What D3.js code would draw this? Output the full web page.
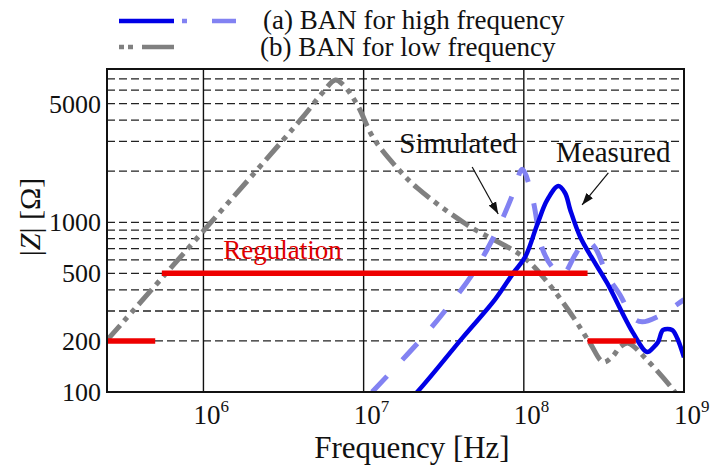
<!DOCTYPE html>
<html>
<head>
<meta charset="utf-8">
<script src="https://cdn.jsdelivr.net/npm/d3@7"></script>
<style>
  body { margin: 0; background: #fff; }
</style>
</head>
<body>
<div id="chart"></div>
<script>
// values: frequency in Hz, |Z| in ohm

// (a) BAN for high frequency, measured
var measuredFreq = [1.8e7, 2.16e7, 4.2e7, 6.6e7, 8.59e7, 1.02e8, 1.21e8, 1.40e8, 1.64e8, 1.81e8, 1.95e8,
                    2.25e8, 2.71e8, 3.31e8, 4.81e8, 5.89e8, 6.41e8, 6.89e8, 7.41e8, 8.43e8, 9.06e8, 1.0e9];
var measuredZ = [85, 100, 212, 350, 502, 625, 964, 1353, 1636, 1488, 1182,
                 819, 600, 439, 223, 172, 182, 197, 232, 232, 208, 160];

// (a) BAN for high frequency, simulated
var simulatedFreq = [1.13e7, 2.26e7, 3.14e7, 4.83e7, 6.44e7, 7.44e7, 8.59e7, 9.78e7, 1.14e8, 1.30e8,
                     1.52e8, 1.74e8, 2.09e8, 2.42e8, 2.79e8, 3.31e8, 3.99e8, 4.81e8, 5.48e8, 6.79e8, 1.0e9];
var simulatedZ = [100, 202, 292, 502, 808, 1074, 1488, 2050, 1353, 706,
                  538, 489, 642, 787, 706, 489, 373, 273, 259, 277, 350];

// (b) BAN for low frequency
var lowFreq = [2.5e5, 4.03e6, 5.53e6, 6.66e6, 7.47e6, 9.14e6, 1.15e7, 1.62e7, 2.16e7, 4.44e7,
               9.91e7, 1.40e8, 2.03e8, 2.59e8, 3.13e8, 3.56e8, 3.99e8, 4.48e8, 5.89e8, 8.43e8, 9.46e8];
var lowZ = [202, 4008, 5781, 6896, 6443, 4913, 3140, 2089, 1593, 964,
            625, 445, 277, 194, 150, 161, 184, 194, 154, 105, 90];

// regulation limits (start freq, end freq, level)
var regStart = [2.5e5, 5.5e5, 2.5e8];
var regEnd = [5.0e5, 2.5e8, 5.0e8];
var regLevel = [200, 500, 200];

// ticks
var xTickExp = [6, 7, 8, 9];
var yTickLabels = [100, 200, 500, 1000, 5000];
var yGrid = [200, 300, 400, 500, 600, 700, 800, 900, 1000, 2000, 3000, 4000, 5000, 6000, 7000];
var xGrid = [1e6, 1e7, 1e8];

var font = "'Liberation Serif', Tinos, 'Times New Roman', Times, 'DejaVu Serif', serif";

// set the dimensions and margins of the graph
var margin = {top: 69, right: 30, bottom: 77, left: 107},
    width = 714 - margin.left - margin.right,
    height = 469 - margin.top - margin.bottom;

var x = d3.scaleLog().domain([2.5e5, 1e9]).range([0, width]);
var y = d3.scaleLog().domain([100, 8000]).range([height, 0]);

var svg = d3.select("#chart").append("svg")
    .attr("width", 714)
    .attr("height", 469)
    .attr("font-family", font)
    .style("font-family", font);

var defs = svg.append("defs");
defs.append("clipPath").attr("id", "plotclip")
  .append("rect").attr("width", width).attr("height", height);
defs.append("marker")
    .attr("id", "arrow")
    .attr("viewBox", "0 0 10 10")
    .attr("refX", 10).attr("refY", 5)
    .attr("markerWidth", 12).attr("markerHeight", 12)
    .attr("markerUnits", "userSpaceOnUse")
    .attr("orient", "auto")
  .append("path")
    .attr("d", "M0,1.5 L10,5 L0,8.5 Z")
    .attr("fill", "#111");

var g = svg.append("g")
    .attr("transform", "translate(" + margin.left + "," + margin.top + ")");

// dashed horizontal grid
g.selectAll(".hgrid")
    .data(yGrid)
  .enter().append("line")
    .attr("class", "hgrid")
    .attr("x1", 0).attr("x2", width)
    .attr("y1", function(d) { return y(d); })
    .attr("y2", function(d) { return y(d); })
    .attr("stroke", "#222")
    .attr("stroke-width", 1.3)
    .attr("stroke-dasharray", "8,4");

// solid vertical grid at decades
g.selectAll(".vgrid")
    .data(xGrid)
  .enter().append("line")
    .attr("class", "vgrid")
    .attr("x1", function(d) { return x(d); })
    .attr("x2", function(d) { return x(d); })
    .attr("y1", 0).attr("y2", height)
    .attr("stroke", "#111")
    .attr("stroke-width", 1.4);

var plot = g.append("g").attr("clip-path", "url(#plotclip)");

var line = d3.line()
    .x(function(d) { return x(d[0]); })
    .y(function(d) { return y(d[1]); })
    .curve(d3.curveCatmullRom.alpha(0.5));

// low frequency BAN (gray dash-dot-dot)
plot.append("path")
    .datum(d3.zip(lowFreq, lowZ))
    .attr("d", line)
    .attr("fill", "none")
    .attr("stroke", "#808080")
    .attr("stroke-width", 5)
    .attr("stroke-dasharray", "20,6,5,6,5,6");

// simulated (light blue dashed)
plot.append("path")
    .datum(d3.zip(simulatedFreq, simulatedZ))
    .attr("d", line)
    .attr("fill", "none")
    .attr("stroke", "#8282f2")
    .attr("stroke-width", 5)
    .attr("stroke-dasharray", "22,22");

// measured (blue solid)
plot.append("path")
    .datum(d3.zip(measuredFreq, measuredZ))
    .attr("d", line)
    .attr("fill", "none")
    .attr("stroke", "#0000e6")
    .attr("stroke-width", 4.5)
    .attr("stroke-linejoin", "round");

// regulation limits
plot.selectAll(".reg")
    .data(d3.range(regLevel.length))
  .enter().append("line")
    .attr("class", "reg")
    .attr("x1", function(i) { return x(regStart[i]); })
    .attr("x2", function(i) { return x(regEnd[i]); })
    .attr("y1", function(i) { return y(regLevel[i]); })
    .attr("y2", function(i) { return y(regLevel[i]); })
    .attr("stroke", "#ee0000")
    .attr("stroke-width", 5.5);

// plot frame
g.append("rect")
    .attr("width", width).attr("height", height)
    .attr("fill", "none")
    .attr("stroke", "#111")
    .attr("stroke-width", 2);

// annotations
g.append("text")
    .attr("x", x(1.33e6)).attr("y", y(608))
    .attr("font-size", 27)
    .attr("fill", "#e00000")
    .text("Regulation");

g.append("text")
    .attr("x", x(1.67e7)).attr("y", y(2560))
    .attr("font-size", 29)
    .attr("fill", "#111")
    .text("Simulated");

g.append("text")
    .attr("x", x(1.59e8)).attr("y", y(2265))
    .attr("font-size", 29)
    .attr("fill", "#111")
    .text("Measured");

var arrows = [[4.76e7, 2118, 6.92e7, 1119], [3.37e8, 1953, 2.31e8, 1265]];
g.selectAll(".arrow")
    .data(arrows)
  .enter().append("line")
    .attr("x1", function(d) { return x(d[0]); })
    .attr("y1", function(d) { return y(d[1]); })
    .attr("x2", function(d) { return x(d[2]); })
    .attr("y2", function(d) { return y(d[3]); })
    .attr("stroke", "#111")
    .attr("stroke-width", 1.2)
    .attr("marker-end", "url(#arrow)");

// y tick labels
g.selectAll(".ylab")
    .data(yTickLabels)
  .enter().append("text")
    .attr("x", -6)
    .attr("y", function(d) { return y(d); })
    .attr("dy", "0.35em")
    .attr("text-anchor", "end")
    .attr("font-size", 26)
    .attr("fill", "#111")
    .text(function(d) { return d; });

// x tick labels as 10^n
var xl = g.selectAll(".xlab")
    .data(xTickExp)
  .enter().append("text")
    .attr("x", function(d) { return x(Math.pow(10, d)) - 10; })
    .attr("y", height + 32)
    .attr("font-size", 27)
    .attr("fill", "#111");
xl.append("tspan").text("10");
xl.append("tspan")
    .attr("dy", -12)
    .attr("font-size", 17)
    .text(function(d) { return d; });

// axis titles
svg.append("text")
    .attr("x", 412)
    .attr("y", 458)
    .attr("text-anchor", "middle")
    .attr("font-size", 31)
    .attr("fill", "#111")
    .text("Frequency [Hz]");

var ylab = svg.append("text")
    .attr("transform", "translate(40,217) rotate(-90)")
    .attr("text-anchor", "middle")
    .attr("font-size", 30)
    .attr("fill", "#111");
ylab.append("tspan").text("|");
ylab.append("tspan").attr("font-style", "italic").text("Z");
ylab.append("tspan").text("| [\u03A9]");

// legend
var legend = svg.append("g");
legend.append("line")
    .attr("x1", 119).attr("x2", 174).attr("y1", 21).attr("y2", 21)
    .attr("stroke", "#0000e6").attr("stroke-width", 4.5);
legend.append("line")
    .attr("x1", 182).attr("x2", 236).attr("y1", 21).attr("y2", 21)
    .attr("stroke", "#8282f2").attr("stroke-width", 4.5)
    .attr("stroke-dasharray", "5,25,24");
legend.append("line")
    .attr("x1", 119).attr("x2", 174).attr("y1", 47).attr("y2", 47)
    .attr("stroke", "#808080").attr("stroke-width", 4.5)
    .attr("stroke-dasharray", "5,4,5,9,32");
legend.append("text")
    .attr("x", 263).attr("y", 29)
    .attr("font-size", 27)
    .attr("fill", "#111")
    .text("(a) BAN for high frequency");
legend.append("text")
    .attr("x", 260).attr("y", 56)
    .attr("font-size", 27)
    .attr("fill", "#111")
    .text("(b) BAN for low frequency");
</script>
</body>
</html>
